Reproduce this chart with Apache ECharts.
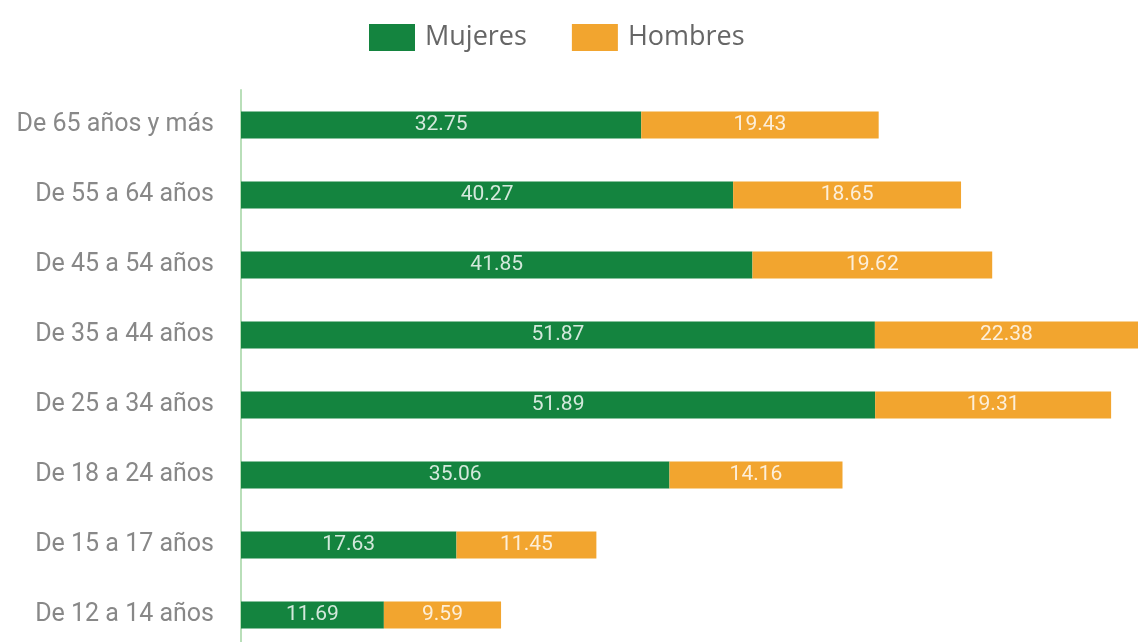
<!DOCTYPE html>
<html>
<head>
<meta charset="utf-8">
<style>
html, body { margin: 0; padding: 0; background: #fff; }
#main { width: 1138px; height: 642px; }
</style>
<script src="https://cdn.jsdelivr.net/npm/echarts@6/dist/echarts.min.js"></script>
</head>
<body>
<div id="main"></div>
<script>
// categorías, de abajo hacia arriba
const categories = [
	"De 12 a 14 años",
	"De 15 a 17 años",
	"De 18 a 24 años",
	"De 25 a 34 años",
	"De 35 a 44 años",
	"De 45 a 54 años",
	"De 55 a 64 años",
	"De 65 años y más"
];
const mujeres = [11.69, 17.63, 35.06, 51.89, 51.87, 41.85, 40.27, 32.75];
const hombres = [9.59, 11.45, 14.16, 19.31, 22.38, 19.62, 18.65, 19.43];

const chart = echarts.init(document.getElementById("main"));

const labelStyle = {
	show: true,
	position: "inside",
	color: "rgba(255,255,255,0.82)",
	fontFamily: "Roboto, sans-serif",
	fontSize: 21
};

chart.setOption({
	animation: false,
	legend: {
		top: 19,
		left: 364,
		itemWidth: 46,
		itemHeight: 27,
		itemGap: 45,
		icon: "rect",
		textStyle: {
			color: "#666",
			fontSize: 27,
			fontFamily: "Open Sans, sans-serif",
			padding: [0, 0, 0, 5]
		},
		data: ["Mujeres", "Hombres"]
	},
	grid: { left: 241, top: 90, width: 897, height: 560, outerBoundsMode: "none" },
	xAxis: {
		type: "value",
		min: 0,
		max: 73.4,
		show: false
	},
	yAxis: {
		type: "category",
		data: categories,
		axisLine: { show: true, lineStyle: { color: "#b9dfb9", width: 2 } },
		axisTick: { show: false },
		axisLabel: {
			margin: 27,
			color: "#888",
			fontSize: 25,
			fontFamily: "Roboto, sans-serif"
		}
	},
	series: [
		{
			name: "Mujeres",
			type: "bar",
			stack: "total",
			barWidth: 27,
			data: mujeres,
			itemStyle: { color: "#14843f" },
			label: labelStyle
		},
		{
			name: "Hombres",
			type: "bar",
			stack: "total",
			barWidth: 27,
			data: hombres,
			itemStyle: { color: "#f2a52f" },
			label: labelStyle
		}
	]
});
</script>
</body>
</html>
